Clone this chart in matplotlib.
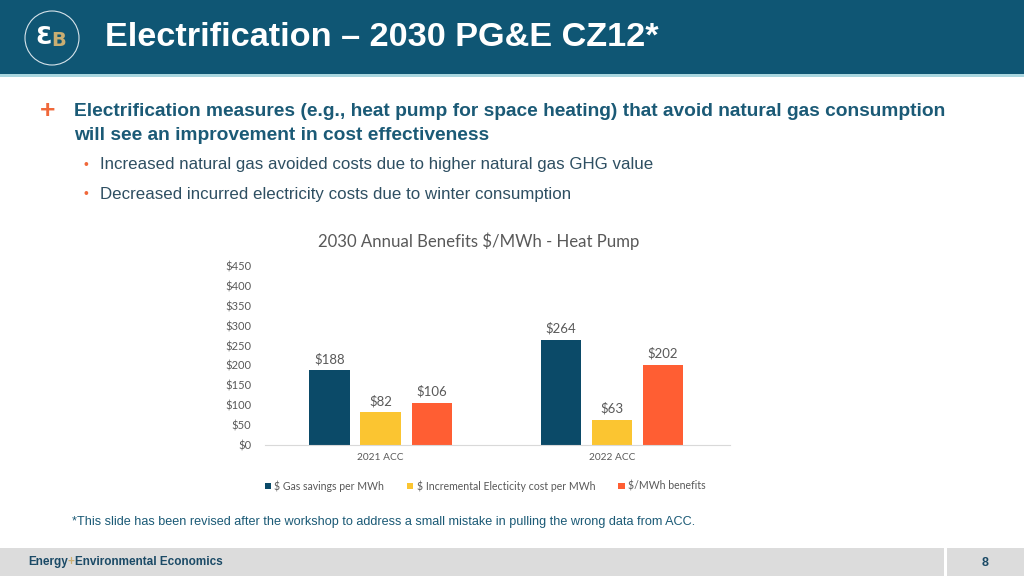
import matplotlib
matplotlib.use("Agg")
import matplotlib.pyplot as plt
from matplotlib.patches import Rectangle, Ellipse
import numpy as np

# chart data
categories = ["2021 ACC", "2022 ACC"]
series_names = ["$ Gas savings per MWh", "$ Incremental Electicity cost per MWh", "$/MWh benefits"]
gas_savings = [188, 264]
elec_cost = [82, 63]
benefits = [106, 202]
yticks = [0, 50, 100, 150, 200, 250, 300, 350, 400, 450]

colors = ["#0b4a68", "#fbc531", "#ff5e33"]
W, H = 1024, 576
narrow = ["Liberation Sans Narrow", "Liberation Sans"]


def fx(x):
    return x / W


def fy(y):
    return 1 - y / H


fig = plt.figure(figsize=(10.24, 5.76), dpi=100)
fig.patch.set_facecolor("white")

# header band
fig.patches.append(Rectangle((0, fy(74)), 1, 74 / H, transform=fig.transFigure,
                             facecolor="#0f5674", edgecolor="none", zorder=0))
fig.patches.append(Rectangle((0, fy(77)), 1, 3 / H, transform=fig.transFigure,
                             facecolor="#a9d6df", edgecolor="none", zorder=0))
# logo
fig.patches.append(Ellipse((fx(52), fy(38)), 54 / W, 54 / H, transform=fig.transFigure,
                           facecolor="none", edgecolor="#d6e3ea", lw=0.8))
fig.text(fx(44), fy(37), "Ɛ", color="white", fontsize=17, fontweight="bold",
         ha="center", va="center", family="DejaVu Sans")
fig.text(fx(59), fy(41), "B", color="#c9ae72", fontsize=14, fontweight="bold",
         ha="center", va="center", family="DejaVu Sans", zorder=1)

fig.text(fx(105), fy(38), "Electrification \u2013 2030 PG&E CZ12*", color="white",
         fontsize=24.7, fontweight="bold", va="center", family="Liberation Sans")

# bullets
fig.text(fx(48), fy(111), "+", color="#f0683a", fontsize=19, fontweight="bold",
         ha="center", va="center", family="Liberation Sans")
fig.text(fx(74), fy(112), "Electrification measures (e.g., heat pump for space heating) that avoid natural gas consumption",
         color="#1b5a76", fontsize=13.8, fontweight="bold", va="center", family="Liberation Sans")
fig.text(fx(74), fy(135), "will see an improvement in cost effectiveness",
         color="#1b5a76", fontsize=13.8, fontweight="bold", va="center", family="Liberation Sans")
for yy, txt in [(165, "Increased natural gas avoided costs due to higher natural gas GHG value"),
                (194, "Decreased incurred electricity costs due to winter consumption")]:
    fig.text(fx(86), fy(yy), "\u2022", color="#f0683a", fontsize=10, ha="center", va="center",
             family="Liberation Sans")
    fig.text(fx(100), fy(yy), txt, color="#2e4f62", fontsize=12.2, va="center", family="Liberation Sans")

# chart
ax = fig.add_axes([fx(265), fy(445), (730 - 265) / W, (445 - 266) / H])
x = np.arange(len(categories))
width = 0.175
offsets = [-0.221, 0, 0.221]
for vals, off, c, name in zip([gas_savings, elec_cost, benefits], offsets, colors, series_names):
    bars = ax.bar(x + off, vals, width, color=c, label=name, zorder=2)
    for b, v in zip(bars, vals):
        ax.text(b.get_x() + b.get_width() / 2, v + 13, f"${v}", ha="center", va="bottom",
                fontsize=9.5, color="#595959", family="Lato")

ax.set_xlim(-0.5, 1.51)
ax.set_ylim(0, 450)
ax.set_yticks(yticks)
ax.set_yticklabels([f"${t}" for t in yticks], fontsize=8, color="#595959", family="Lato")
ax.set_xticks(x)
ax.set_xticklabels(categories, fontsize=7.3, color="#595959", family="Lato")
ax.tick_params(length=0, pad=10)
ax.tick_params(axis="x", pad=6)
for s in ["top", "right", "left"]:
    ax.spines[s].set_visible(False)
ax.spines["bottom"].set_color("#d9d9d9")
ax.patch.set_alpha(0)

fig.text(fx(479), fy(241), "2030 Annual Benefits $/MWh - Heat Pump", ha="center", va="center",
         fontsize=12.1, color="#595959", family="Lato")

leg = ax.legend(loc="center", bbox_to_anchor=(fx(485), fy(486)), bbox_transform=fig.transFigure,
                ncol=3, frameon=False, handlelength=0.6, handleheight=0.6,
                handletextpad=0.3, columnspacing=2.2, prop={"family": "Lato", "size": 7.6})
for t in leg.get_texts():
    t.set_color("#595959")

# footnote
fig.text(fx(72), fy(522), "*This slide has been revised after the workshop to address a small mistake in pulling the wrong data from ACC.",
         color="#1b5a76", fontsize=9.1, va="center", family="Liberation Sans")

# footer
fig.patches.append(Rectangle((0, 0), 1, 28 / H, transform=fig.transFigure,
                             facecolor="#dcdcdc", edgecolor="none", zorder=0))
fig.patches.append(Rectangle((fx(944), 0), 3 / W, 28 / H, transform=fig.transFigure,
                             facecolor="white", edgecolor="none", zorder=1))
t1 = fig.text(fx(28), fy(562), "Energy", color="#1b4a66", fontsize=8.5, fontweight="bold",
              va="center", family=narrow)
fig.canvas.draw()
x1 = t1.get_window_extent().x1 / W
t2 = fig.text(x1, fy(562), "+", color="#c9ae72", fontsize=8.5, fontweight="bold",
              va="center", family=narrow)
fig.canvas.draw()
x2 = t2.get_window_extent().x1 / W
fig.text(x2, fy(562), "Environmental Economics", color="#1b4a66", fontsize=8.5, fontweight="bold",
         va="center", family=narrow)
fig.text(fx(985), fy(563), "8", color="#1b4a66", fontsize=9, fontweight="bold",
         ha="center", va="center", family="Liberation Sans")

fig.savefig("out.png", dpi=100)
